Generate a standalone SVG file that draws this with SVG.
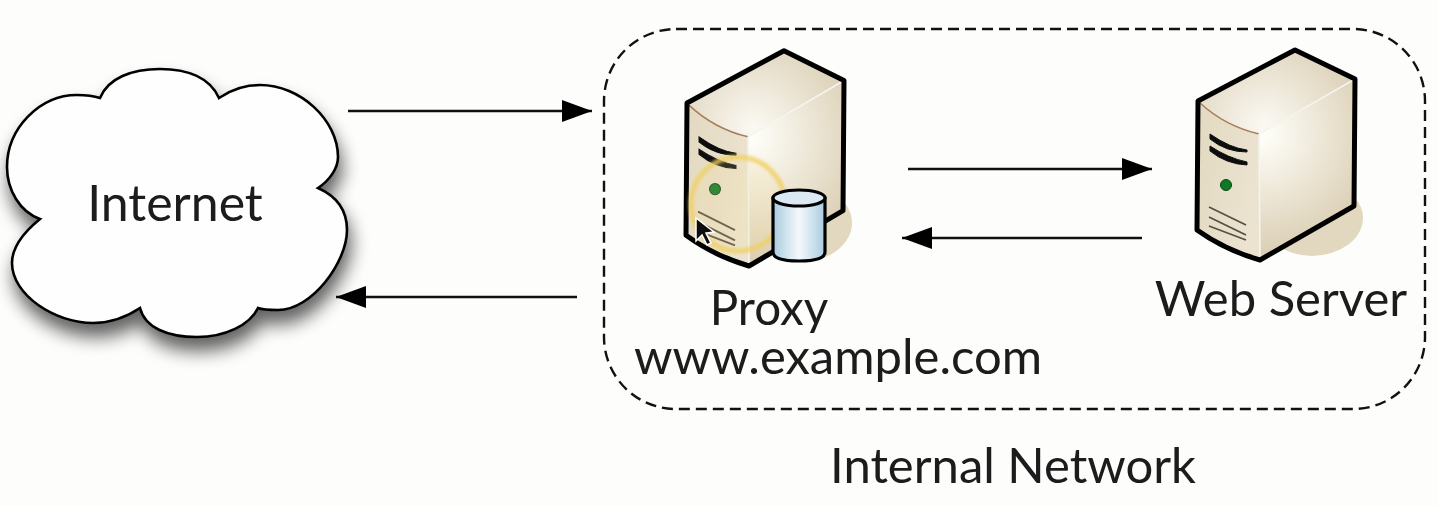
<svg xmlns="http://www.w3.org/2000/svg" xmlns:xlink="http://www.w3.org/1999/xlink" width="1438" height="506" viewBox="0 0 1438 506">
<style>
text{font-family:Lato,"Liberation Sans",sans-serif;fill:#1a1a1a;text-anchor:middle;font-size:49px;filter:url(#textsoft)}
.conn{stroke:#111;stroke-width:2.6;fill:none;marker-end:url(#head)}
.edge{fill:none;stroke:#000;stroke-width:5;stroke-linejoin:round}
</style>
<defs>
<marker id="head" markerUnits="userSpaceOnUse" markerWidth="32" markerHeight="24" refX="30" refY="12" orient="auto"><path d="M0 1L30 12L0 23Z" fill="#000"/></marker>
<filter id="shadow" x="-15%" y="-15%" width="130%" height="135%"><feGaussianBlur in="SourceAlpha" stdDeviation="9"/><feOffset dx="3" dy="13"/><feComponentTransfer><feFuncA type="linear" slope="0.62"/></feComponentTransfer><feMerge><feMergeNode/><feMergeNode in="SourceGraphic"/></feMerge></filter>
<filter id="soft"><feGaussianBlur stdDeviation="0.5"/></filter>
<filter id="textsoft" x="-5%" y="-5%" width="110%" height="110%"><feGaussianBlur stdDeviation="0.4"/></filter>
<filter id="glow" x="-20%" y="-20%" width="140%" height="140%"><feGaussianBlur stdDeviation="1.6"/></filter>
<radialGradient id="side" gradientUnits="userSpaceOnUse" cx="1262" cy="135" r="125"><stop offset="0" stop-color="#fffffa"/><stop offset="1" stop-color="#d9ccb0"/></radialGradient>
<radialGradient id="top" gradientUnits="userSpaceOnUse" cx="1265" cy="125" r="95"><stop offset="0" stop-color="#fbf9f3"/><stop offset="1" stop-color="#ddd2b9"/></radialGradient>
<linearGradient id="front" x1="0" y1="0" x2="1" y2="0.3"><stop offset="0" stop-color="#e3d9c1"/><stop offset="1" stop-color="#ebe3d0"/></linearGradient>
<linearGradient id="can" x1="0" y1="0" x2="1" y2="0"><stop offset="0" stop-color="#a9cbe0"/><stop offset="0.5" stop-color="#f4f9fb"/><stop offset="1" stop-color="#a9cbe0"/></linearGradient>
<g id="server" filter="url(#soft)">
<ellipse cx="1312" cy="218" rx="51" ry="38" fill="#e2d8bf"/>
<path d="M1198 101L1295 50L1355 79L1259 134Q1225 126 1198 101Z" fill="url(#top)"/>
<path d="M1259 134L1355 79L1354 206L1260 260Z" fill="url(#side)"/>
<path d="M1198 101Q1225 126 1259 134L1260 260Q1225 250 1197 230Z" fill="url(#front)"/>
<path d="M1200 103Q1225 126 1259 134" fill="none" stroke="#a87f5c" stroke-width="1.6"/>
<path d="M1259 134L1355 79M1259 134L1260 260" fill="none" stroke="#f4f4f0" stroke-width="1.6"/>
<path d="M1198 101L1295 50L1355 79L1354 206L1260 260Q1225 250 1197 230Z" class="edge"/>
<path d="M1210 134Q1230 148 1247 150L1247 152Q1226 152 1210 139ZM1210 146Q1228 158 1247 162L1247 165Q1226 164 1210 151Z" fill="#111" stroke="#111" stroke-width="1"/>
<circle cx="1226" cy="185" r="5.5" fill="#0c7a25" stroke="#14401c" stroke-width="1"/>
<path d="M1209 207L1246 225M1209 217L1246 235M1209 226L1246 240" fill="none" stroke="#555044" stroke-width="1.8"/>
</g>
</defs>
<rect width="1438" height="506" fill="#fdfefc"/>
<g id="internal-network">
<rect x="604" y="29" width="821" height="380" rx="72" ry="72" fill="none" stroke="#111" stroke-width="2.4" stroke-dasharray="11 6"/>
<text x="1013" y="483">Internal Network</text>
</g>
<g id="internet">
<path filter="url(#shadow)" d="M100 98C108 78 132 69 160 69C188 69 210 78 219 98C232 89 246 85 260 85C300 85 338 120 338 157C338 168 330 180 318 188C336 196 347 210 347 230C347 262 312 310 278 310C270 310 263 310 258 308C250 325 225 337 197 337C168 337 145 328 140 308C125 318 110 323 93 323C55 323 12 295 12 263C12 247 24 232 40 219C20 212 7 190 7 167C7 128 40 95 77 95C86 95 94 96 100 98Z" fill="#fdfefd" stroke="#000" stroke-width="2.6"/>
<text x="175" y="221" style="font-size:50px">Internet</text>
</g>
<g id="proxy">
<use xlink:href="#server" href="#server" transform="translate(-511 103) scale(1 1.025) translate(0 -101)"/>
<circle cx="738" cy="204" r="47" fill="#f3dc8a" fill-opacity="0.16" stroke="#f0d060" stroke-width="5" stroke-opacity="0.8" filter="url(#glow)"/>
<g filter="url(#soft)">
<path d="M773 198V252Q773 261 799 261Q825 261 825 252V198Z" fill="url(#can)" stroke="#000" stroke-width="3.2"/>
<ellipse cx="799" cy="198" rx="26" ry="8" fill="#dbeaf2" stroke="#000" stroke-width="3.2"/>
<path d="M696 218L696 241L702 235L707 245L711 243L706 233L714 232Z" fill="#111" stroke="#fff" stroke-width="1.5"/>
</g>
<text><tspan x="769" y="325" style="font-size:47.5px">Proxy</tspan><tspan x="838" y="374">www.example.com</tspan></text>
</g>
<g id="web-server">
<use xlink:href="#server" href="#server"/>
<text x="1281" y="316">Web Server</text>
</g>
<g id="connectors">
<path class="conn" d="M348 111H592"/>
<path class="conn" d="M908 169H1152"/>
<path class="conn" d="M1142 238H902"/>
<path class="conn" d="M577 297H336"/>
</g>
</svg>
